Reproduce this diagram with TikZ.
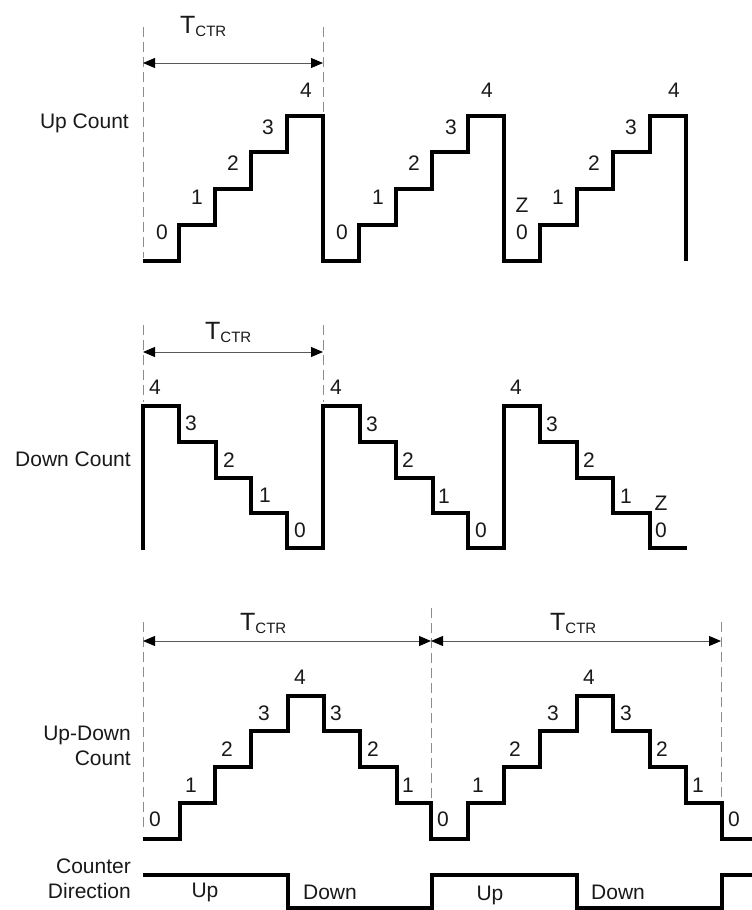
\documentclass[tikz,border=0pt]{standalone}
\usepackage{fontspec}
\setmainfont{Liberation Sans}
\usetikzlibrary{arrows.meta}

\newcommand{\tctr}{T\raisebox{-0.3ex}{\fontsize{15}{15}\selectfont CTR}}

\begin{document}
\begin{tikzpicture}[x = 1pt, y = -1pt,
                    wave/.style = {line width = 3.8pt, black},
                    guide/.style = {dash pattern = on 10pt off 5pt,
                                    line width = 1pt,
                                    black!45},
                    dim/.style = {{Triangle[length = 12pt, width = 10pt, color = black]}-{Triangle[length = 12pt, width = 10pt, color = black]},
                                  line width = 1pt,
                                  black!65},
                    cnt/.style = {inner sep = 0pt,
                                  text = black!90,
                                  font = \fontsize{21}{21}\selectfont},
                    sig/.style = {inner sep = 0pt,
                                  anchor = east,
                                  align = right,
                                  text = black!90,
                                  font = \fontsize{21}{25}\selectfont},
                    per/.style = {inner sep = 0pt,
                                  anchor = base west,
                                  text = black!90,
                                  font = \fontsize{25}{25}\selectfont}]

\useasboundingbox (0,0) rectangle (752,910);

% Up Count
\coordinate (U0t) at (143,27);  \coordinate (U0b) at (143,258);
\coordinate (U1t) at (323,27);  \coordinate (U1b) at (323,113);
\coordinate (U0)  at (143,63);  \coordinate (U1)  at (323,63);
\draw[guide] (U0t) -- (U0b);
\draw[guide] (U1t) -- (U1b);
\draw[dim] (U0) -- (U1);
\node[per] (Utctr) at (180,33) {\tctr};
\node[sig] (Ulbl) at (129,123) {Up Count};

\draw[wave] (143,261) -| (179,225) -| (215,189) -| (251,152) -| (287,116)
            -| (323,261) -| (359,225) -| (396,189) -| (432,152) -| (468,116)
            -| (504,261) -| (540,225) -| (577,189) -| (613,152) -| (650,116)
            -| (686,261);

\node[cnt] (Ua0) at (162,232) {0};
\node[cnt] (Ua1) at (197,197) {1};
\node[cnt] (Ua2) at (233,163) {2};
\node[cnt] (Ua3) at (268,127) {3};
\node[cnt] (Ua4) at (306,90)  {4};
\node[cnt] (Ub0) at (342,232) {0};
\node[cnt] (Ub1) at (378,197) {1};
\node[cnt] (Ub2) at (414,163) {2};
\node[cnt] (Ub3) at (451,127) {3};
\node[cnt] (Ub4) at (487,90)  {4};
\node[cnt] (Uz)  at (522,205) {Z};
\node[cnt] (Uc0) at (522,232) {0};
\node[cnt] (Uc1) at (558,197) {1};
\node[cnt] (Uc2) at (594,163) {2};
\node[cnt] (Uc3) at (631,127) {3};
\node[cnt] (Uc4) at (674,90)  {4};

% Down Count
\coordinate (D0t) at (143,325); \coordinate (D0b) at (143,402);
\coordinate (D1t) at (323,325); \coordinate (D1b) at (323,402);
\coordinate (D0)  at (143,352); \coordinate (D1)  at (323,352);
\draw[guide] (D0t) -- (D0b);
\draw[guide] (D1t) -- (D1b);
\draw[dim] (D0) -- (D1);
\node[per] (Dtctr) at (205,339) {\tctr};
\node[sig] (Dlbl) at (131,459) {Down Count};

\draw[wave] (143,550) |- (179,406) |- (216,442) |- (251,478) |- (287,513)
            |- (323,548) |- (360,406) |- (396,442) |- (433,478) |- (468,513)
            |- (504,548) |- (540,406) |- (577,442) |- (613,478) |- (650,513)
            |- (687,548);

\node[cnt] (Da4) at (155,387) {4};
\node[cnt] (Da3) at (191,423) {3};
\node[cnt] (Da2) at (229,460) {2};
\node[cnt] (Da1) at (265,495) {1};
\node[cnt] (Da0) at (300,530) {0};
\node[cnt] (Db4) at (336,387) {4};
\node[cnt] (Db3) at (372,424) {3};
\node[cnt] (Db2) at (408,460) {2};
\node[cnt] (Db1) at (444,496) {1};
\node[cnt] (Db0) at (481,530) {0};
\node[cnt] (Dc4) at (516,387) {4};
\node[cnt] (Dc3) at (552,424) {3};
\node[cnt] (Dc2) at (589,460) {2};
\node[cnt] (Dc1) at (626,496) {1};
\node[cnt] (Dz)  at (661,503) {Z};
\node[cnt] (Dc0) at (661,530) {0};

% Up-Down Count
\coordinate (B0t) at (143,622); \coordinate (B0b) at (143,828);
\coordinate (B1t) at (431,608); \coordinate (B1b) at (431,803);
\coordinate (B2t) at (721,622); \coordinate (B2b) at (721,800);
\coordinate (B0)  at (143,641); \coordinate (B1)  at (431,641);
\coordinate (B2)  at (721,641);
\draw[guide] (B0t) -- (B0b);
\draw[guide] (B1t) -- (B1b);
\draw[guide] (B2t) -- (B2b);
\draw[dim] (B0) -- (B1);
\draw[dim] (B1) -- (B2);
\node[per] (Batctr) at (240,630) {\tctr};
\node[per] (Bbtctr) at (550,630) {\tctr};
\node[sig] (Blbl) at (131,746) {Up-Down\\Count};

\draw[wave] (143,839) -| (180,803) -| (215,767) -| (251,731) -| (288,696)
            -| (324,731) -| (360,767) -| (397,803) -| (431,839)
            -| (468,803) -| (504,767) -| (540,731) -| (577,696)
            -| (613,731) -| (650,767) -| (686,803) -| (722,839) -- (752,839);

\node[cnt] (Ba0)  at (155,819) {0};
\node[cnt] (Ba1)  at (191,785) {1};
\node[cnt] (Ba2)  at (227,749) {2};
\node[cnt] (Ba3)  at (264,713) {3};
\node[cnt] (Ba4)  at (300,677) {4};
\node[cnt] (Ba3d) at (336,713) {3};
\node[cnt] (Ba2d) at (373,749) {2};
\node[cnt] (Ba1d) at (408,785) {1};
\node[cnt] (Bb0)  at (443,819) {0};
\node[cnt] (Bb1)  at (478,785) {1};
\node[cnt] (Bb2)  at (515,749) {2};
\node[cnt] (Bb3)  at (553,713) {3};
\node[cnt] (Bb4)  at (589,677) {4};
\node[cnt] (Bb3d) at (626,713) {3};
\node[cnt] (Bb2d) at (662,749) {2};
\node[cnt] (Bb1d) at (698,785) {1};
\node[cnt] (Bc0)  at (734,819) {0};

% Counter Direction
\node[sig] (Clbl) at (131,879) {Counter\\Direction};
\draw[wave] (143,875) -| (288,908) -| (432,875) -| (577,908) -| (722,875) -- (752,875);
\node[sig, anchor = center] (Cup1) at (205,892) {Up};
\node[sig, anchor = center] (Cdn1) at (330,892) {Down};
\node[sig, anchor = center] (Cup2) at (490,895) {Up};
\node[sig, anchor = center] (Cdn2) at (618,892) {Down};

\end{tikzpicture}
\end{document}
